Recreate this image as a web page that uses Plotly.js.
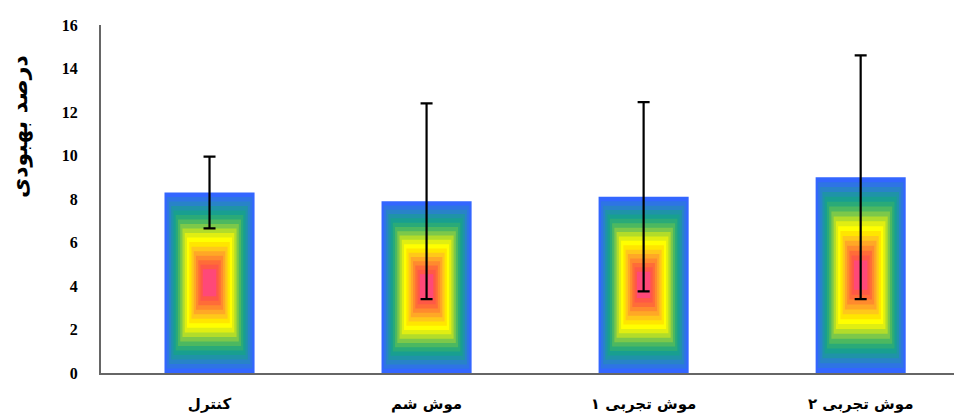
<!DOCTYPE html>
<html>
<head>
<meta charset="utf-8">
<script src="https://cdn.plot.ly/plotly-3.0.1.min.js"></script>
<style>html,body{margin:0;padding:0;background:#fff;}#chart{width:954px;height:414px;}</style>
</head>
<body>
<div id="chart"></div>
<script>
// Data
const categories = ["کنترل", "موش شم", "موش تجربی ۱", "موش تجربی ۲"];
const values = [8.3, 7.9, 8.1, 9.0];
const errors = [1.65, 4.5, 4.35, 5.6];
const yTickValues = [0, 2, 4, 6, 8, 10, 12, 14, 16];
const yTitle = "درصد بهبودی";

// Rectangular gradient fill colours (outside -> centre)
const gradientColors = [
  "#3366ff", "#2e74e4", "#2883c8", "#1f93a8", "#189f90", "#2aaa78",
  "#4cb860", "#7cc84a", "#b2dc2a", "#e0ee12", "#ffff00", "#ffe600",
  "#ffc81a", "#ffa826", "#ff8a2e", "#ff6c38", "#ff5846", "#ff4878"
];

const barWidth = 0.415;
const traces = [];
gradientColors.forEach((c, i) => {
  const t = i * 0.05;
  traces.push({
    type: "bar",
    x: categories,
    y: values.map(v => v * (1 - t)),
    base: values.map(v => v * t / 2),
    width: categories.map(() => barWidth * (1 - t)),
    marker: {color: c, line: {width: 0}},
    hoverinfo: "skip",
    showlegend: false
  });
});
traces.push({
  type: "scatter",
  mode: "markers",
  x: categories,
  y: values,
  marker: {size: 1, opacity: 0},
  error_y: {type: "data", array: errors, visible: true, color: "#000", thickness: 2.2, width: 6},
  showlegend: false,
  hoverinfo: "skip"
});

const layout = {
  width: 954,
  height: 414,
  margin: {l: 101, r: 0, t: 25, b: 41},
  paper_bgcolor: "#fff",
  plot_bgcolor: "#fff",
  barmode: "overlay",
  showlegend: false,
  xaxis: {
    type: "category",
    range: [-0.5, 3.43],
    showline: true,
    linecolor: "#666",
    linewidth: 2,
    showgrid: false,
    zeroline: false,
    ticks: "",
    ticklabelstandoff: 16,
    tickfont: {family: "DejaVu Sans", size: 15, color: "#000", weight: "bold"}
  },
  yaxis: {
    range: [0, 16],
    tickvals: yTickValues,
    ticktext: yTickValues.map(String),
    showline: true,
    linecolor: "#666",
    linewidth: 2,
    showgrid: false,
    zeroline: false,
    ticks: "",
    ticklabelstandoff: 18,
    tickfont: {family: "Liberation Serif", size: 16, color: "#000", weight: "bold"}
  },
  annotations: [{
    text: yTitle,
    xref: "paper", yref: "paper",
    x: -0.095, y: 0.71,
    xanchor: "center", yanchor: "middle",
    textangle: -90,
    showarrow: false,
    font: {family: "DejaVu Sans", size: 22, color: "#000", weight: "bold"}
  }]
};

Plotly.newPlot("chart", traces, layout, {displayModeBar: false, staticPlot: true});
</script>
</body>
</html>
